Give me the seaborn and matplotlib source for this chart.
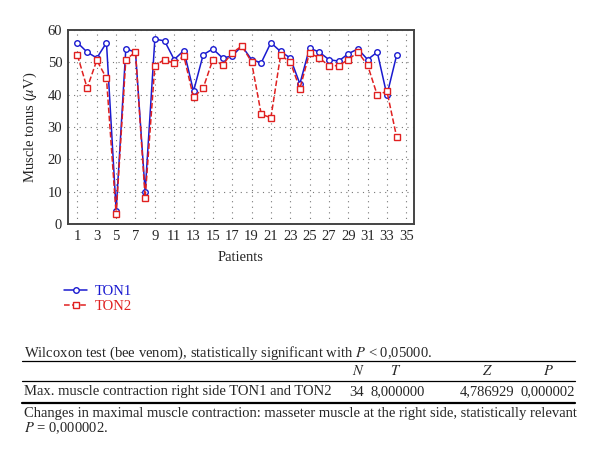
import numpy as np
import pandas as pd
import matplotlib
matplotlib.use("Agg")
import matplotlib.pyplot as plt
import seaborn as sns

# values
patients = list(range(1, 35))
ton1 = [56.1, 53.2, 51.4, 56.1, 4.2, 54.2, 53.2, 10.0, 57.2, 56.7,
        50.9, 53.7, 41.1, 52.4, 54.2, 51.4, 52.0, 55.1, 50.9, 49.9,
        56.1, 53.4, 51.4, 43.4, 54.5, 53.2, 50.9, 50.4, 52.7, 54.2,
        50.9, 53.2, 39.9, 52.2]
ton2 = [52.2, 42.1, 50.7, 45.1, 3.0, 50.9, 53.2, 8.1, 49.0, 50.9,
        49.7, 52.0, 39.2, 42.1, 50.9, 49.2, 53.0, 55.1, 50.2, 34.0,
        32.9, 52.2, 50.2, 41.9, 53.0, 51.4, 49.0, 49.0, 50.9, 53.2,
        49.2, 39.9, 41.1, 27.0]
x_ticks = list(range(1, 36, 2))
y_ticks = list(range(0, 61, 10))

table_head = ["N", "T", "Z", "P"]
table_row = ["34", "8,000000", "4,786929", "0,000002"]

df = pd.DataFrame({"Patients": patients, "TON1": ton1, "TON2": ton2})

sns.set_style("white")
plt.rcParams["font.family"] = ["Liberation Serif", "DejaVu Serif"]
plt.rcParams["mathtext.fontset"] = "stix"

fig = plt.figure(figsize=(6, 4.5), dpi=100)
ax = fig.add_axes([0.113, 0.502, 0.577, 0.431])

sns.lineplot(data=df, x="Patients", y="TON1", ax=ax, color="#1a1ad0", lw=1.1,
             marker="o", markersize=4, markerfacecolor="white",
             markeredgecolor="#1a1ad0", markeredgewidth=1, label="TON1")
sns.lineplot(data=df, x="Patients", y="TON2", ax=ax, color="#e02020", lw=1.1,
             linestyle="--", marker="s", markersize=4, markerfacecolor="white",
             markeredgecolor="#e02020", markeredgewidth=1, label="TON2")

ax.set_xlim(0, 35.8)
ax.set_ylim(0, 60)
ax.set_xticks(x_ticks)
ax.set_yticks(y_ticks)
ax.tick_params(labelsize=10.5, length=0, pad=4)
ax.grid(True, linestyle=(0, (1, 4)), color="#777777", lw=0.8)
for s in ax.spines.values():
    s.set_color("#444444")
    s.set_linewidth(1.4)
ax.set_xlabel("Patients", fontsize=10.5, labelpad=6)
ax.set_ylabel(r"Muscle tonus ($\mu$V)", fontsize=10.5, labelpad=6)

# legend below the plot, labels coloured like the lines
ax.get_legend().remove()
h, l = ax.get_legend_handles_labels()
fig.legend(h, l, loc="center left", bbox_to_anchor=(0.085, 0.336),
           frameon=False, fontsize=10.5, labelcolor="linecolor",
           handlelength=1.6, handletextpad=0.5, labelspacing=0.1)

# the Wilcoxon table under the chart
def fy(py):
    return 1 - py / 450

def fx(px):
    return px / 600

fs = 10.5
fig.text(fx(24), fy(353), "Wilcoxon test (bee venom), statistically significant with $P$ < 0,05000.",
         fontsize=fs, va="center")
fig.add_artist(plt.Line2D([fx(22), fx(575)], [fy(361), fy(361)], color="black", lw=0.9))
head_x = [358, 396, 487, 548]
for hx, t in zip(head_x, table_head):
    fig.text(fx(hx), fy(371), "$" + t + "$", fontsize=fs, va="center", ha="center")
fig.add_artist(plt.Line2D([fx(22), fx(575)], [fy(381), fy(381)], color="black", lw=0.9))
fig.text(fx(24), fy(392), "Max. muscle contraction right side TON1 and TON2",
         fontsize=fs, va="center")
row_x = [357, 398, 487, 548]
for rx, t in zip(row_x, table_row):
    fig.text(fx(rx), fy(392), t, fontsize=fs, va="center", ha="center")
fig.add_artist(plt.Line2D([fx(22), fx(575)], [fy(403), fy(403)], color="black", lw=1.6))
fig.text(fx(24), fy(414), "Changes in maximal muscle contraction: masseter muscle at the right side, statistically relevant",
         fontsize=fs, va="center")
fig.text(fx(24), fy(428), "$P$ = 0,000002.", fontsize=fs, va="center")

fig.savefig("out.png", dpi=100)
